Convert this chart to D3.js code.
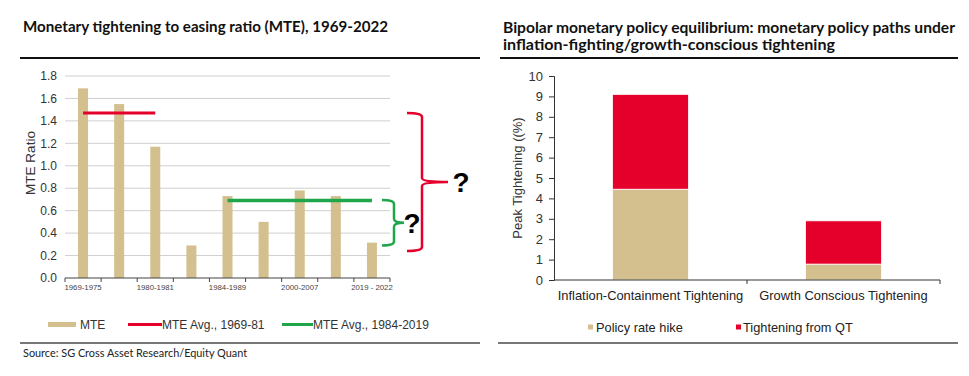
<!DOCTYPE html>
<html>
<head>
<meta charset="utf-8">
<script src="https://cdn.jsdelivr.net/npm/d3@7/dist/d3.min.js"></script>
<style>
  html, body { margin: 0; padding: 0; background: #fff; }
  svg { display: block; }
</style>
</head>
<body>
<svg id="chart" width="969" height="376"></svg>
<script>
// ---------- DATA ----------
// Left chart: MTE ratio by tightening cycle (only every other label is printed)
const mteLabels = ["1969-1975", "", "1980-1981", "", "1984-1989", "", "2000-2007", "", "2019 - 2022"];
const mteValues = [1.69, 1.55, 1.17, 0.29, 0.73, 0.50, 0.78, 0.73, 0.315];
const mteTicks = [0.0, 0.2, 0.4, 0.6, 0.8, 1.0, 1.2, 1.4, 1.6, 1.8];
const avgRed = [1.47, 1.47, 1.47];            // MTE Avg., 1969-81 over cycles 1..3
const avgRedIdx = [0, 1, 2];
const avgGreen = [0.69, 0.69, 0.69, 0.69, 0.69]; // MTE Avg., 1984-2019 over cycles 5..9
const avgGreenIdx = [4, 5, 6, 7, 8];
const braceRed = [1.47, 0.24];   // top / bottom of red brace (MTE units)
const braceGreen = [0.695, 0.29];
const leftLegend = ["MTE", "MTE Avg., 1969-81", "MTE Avg., 1984-2019"];

// Right chart: peak tightening
const policyCats = ["Inflation-Containment Tightening", "Growth Conscious Tightening"];
const policyRate = [4.45, 0.78];
const qtTightening = [4.65, 2.12];
const policyTicks = [0, 1, 2, 3, 4, 5, 6, 7, 8, 9, 10];
const rightLegend = ["Policy rate hike", "Tightening from QT"];

// ---------- STYLE ----------
const TAN = "#d4c08f";
const RED = "#e4002b";
const GREEN = "#1fa64a";
const AX = "Liberation Sans, Arial, sans-serif";
const TITLE = "Lato, 'Open Sans', sans-serif";

const svg = d3.select("#chart");
svg.append("rect").attr("width", 969).attr("height", 376).attr("fill", "#fff");

function title(g, x, y, txt, w) {
  g.append("text").attr("x", x).attr("y", y)
    .attr("font-family", TITLE).attr("font-weight", 700).attr("font-size", 15.2)
    .attr("fill", "#111").attr("textLength", w).attr("lengthAdjust", "spacingAndGlyphs")
    .text(txt);
}

// ---------- LEFT PANEL ----------
const L = svg.append("g");
title(L, 23, 32, "Monetary tightening to easing ratio (MTE), 1969-2022", 365);
L.append("line").attr("x1", 20).attr("x2", 480).attr("y1", 58).attr("y2", 58)
  .attr("stroke", "#111").attr("stroke-width", 2);

const xL = d3.scaleBand().domain(d3.range(mteValues.length)).range([65, 390]).padding(0);
const yL = d3.scaleLinear().domain([0, 1.8]).range([278, 76]);

// gridlines
L.append("g").selectAll("line").data(mteTicks.filter(d => d > 0)).join("line")
  .attr("x1", 65).attr("x2", 390)
  .attr("y1", d => yL(d)).attr("y2", d => yL(d))
  .attr("stroke", "#cfcfcf").attr("stroke-width", 1);

// y tick labels
L.append("g").selectAll("text").data(mteTicks).join("text")
  .attr("x", 57).attr("y", d => yL(d)).attr("dy", "0.35em")
  .attr("text-anchor", "end").attr("font-family", AX).attr("font-size", 12)
  .attr("fill", "#333").text(d => d3.format(".1f")(d));

L.append("text").attr("transform", `translate(35,${(yL(0) + yL(1.8)) / 2 - 14}) rotate(-90)`)
  .attr("text-anchor", "middle").attr("font-family", AX).attr("font-size", 13.5)
  .attr("fill", "#333").text("MTE Ratio");

// bars
const barW = 10;
L.append("g").selectAll("rect").data(mteValues).join("rect")
  .attr("x", (d, i) => xL(i) + xL.bandwidth() / 2 - barW / 2)
  .attr("width", barW)
  .attr("y", d => yL(d)).attr("height", d => yL(0) - yL(d))
  .attr("fill", TAN);

// x axis
L.append("line").attr("x1", 65).attr("x2", 390).attr("y1", yL(0)).attr("y2", yL(0))
  .attr("stroke", "#444").attr("stroke-width", 1.2);
L.append("g").selectAll("line").data(d3.range(mteValues.length + 1)).join("line")
  .attr("x1", i => 65 + i * xL.step()).attr("x2", i => 65 + i * xL.step())
  .attr("y1", yL(0)).attr("y2", yL(0) + 4)
  .attr("stroke", "#444").attr("stroke-width", 1);
L.append("g").selectAll("text").data(mteLabels).join("text")
  .attr("x", (d, i) => xL(i) + xL.bandwidth() / 2).attr("y", 290)
  .attr("text-anchor", "middle").attr("font-family", AX).attr("font-size", 7.8)
  .attr("fill", "#444").text(d => d);

// average lines
const lineL = d3.line().x(d => xL(d[0]) + xL.bandwidth() / 2).y(d => yL(d[1]));
L.append("path").attr("d", lineL(avgRedIdx.map((i, k) => [i, avgRed[k]])))
  .attr("stroke", RED).attr("stroke-width", 3).attr("fill", "none");
L.append("path").attr("d", lineL(avgGreenIdx.map((i, k) => [i, avgGreen[k]])))
  .attr("stroke", GREEN).attr("stroke-width", 3.5).attr("fill", "none");

// braces
function brace(x0, xv, xp, yTop, yBot) {
  const yMid = (yTop + yBot) / 2, r = 4;
  return `M${x0},${yTop} Q${xv},${yTop} ${xv},${yTop + r} L${xv},${yMid - r} Q${xv},${yMid} ${xp},${yMid}` +
         ` Q${xv},${yMid} ${xv},${yMid + r} L${xv},${yBot - r} Q${xv},${yBot} ${x0},${yBot}`;
}
L.append("path").attr("d", brace(407, 422, 448, yL(braceRed[0]), yL(braceRed[1])))
  .attr("stroke", RED).attr("stroke-width", 2.5).attr("fill", "none");
L.append("path").attr("d", brace(382, 394, 404, yL(braceGreen[0]), yL(braceGreen[1])))
  .attr("stroke", GREEN).attr("stroke-width", 2.5).attr("fill", "none");
L.append("text").attr("x", 461).attr("y", (yL(braceRed[0]) + yL(braceRed[1])) / 2 + 10)
  .attr("text-anchor", "middle").attr("font-family", AX).attr("font-weight", 700)
  .attr("font-size", 28).attr("fill", "#000").text("?");
L.append("text").attr("x", 412).attr("y", (yL(braceGreen[0]) + yL(braceGreen[1])) / 2 + 10)
  .attr("text-anchor", "middle").attr("font-family", AX).attr("font-weight", 700)
  .attr("font-size", 28).attr("fill", "#000").text("?");

// legend
const lg = L.append("g").attr("font-family", AX).attr("font-size", 12).attr("fill", "#333");
lg.append("rect").attr("x", 48).attr("y", 322).attr("width", 28).attr("height", 5).attr("fill", TAN);
lg.append("text").attr("x", 80).attr("y", 328.5).text(leftLegend[0]);
lg.append("line").attr("x1", 128).attr("x2", 162).attr("y1", 324.5).attr("y2", 324.5)
  .attr("stroke", RED).attr("stroke-width", 3);
lg.append("text").attr("x", 162).attr("y", 328.5).text(leftLegend[1]);
lg.append("line").attr("x1", 282).attr("x2", 313).attr("y1", 324.5).attr("y2", 324.5)
  .attr("stroke", GREEN).attr("stroke-width", 3);
lg.append("text").attr("x", 313).attr("y", 328.5).text(leftLegend[2]);

L.append("line").attr("x1", 20).attr("x2", 480).attr("y1", 343).attr("y2", 343)
  .attr("stroke", "#777").attr("stroke-width", 2);
L.append("text").attr("x", 23).attr("y", 357)
  .attr("font-family", TITLE).attr("font-size", 10.9).attr("fill", "#222")
  .text("Source: SG Cross Asset Research/Equity Quant");

// ---------- RIGHT PANEL ----------
const R = svg.append("g");
title(R, 503, 33, "Bipolar monetary policy equilibrium: monetary policy paths under", 452);
title(R, 503, 50, "inflation-fighting/growth-conscious tightening", 332);
R.append("line").attr("x1", 500).attr("x2", 958).attr("y1", 58).attr("y2", 58)
  .attr("stroke", "#111").attr("stroke-width", 2);

const xR = d3.scaleBand().domain(policyCats).range([554, 940]).paddingInner(0).paddingOuter(0);
const yR = d3.scaleLinear().domain([0, 10]).range([280, 76]);

const stack = d3.stack().keys(["rate", "qt"])(policyCats.map((c, i) => ({ cat: c, rate: policyRate[i], qt: qtTightening[i] })));
const colors = [TAN, RED];
const bwR = 76;
stack.forEach((layer, li) => {
  R.append("g").selectAll("rect").data(layer).join("rect")
    .attr("x", d => xR(d.data.cat) + xR.bandwidth() / 2 - bwR / 2)
    .attr("width", bwR)
    .attr("y", d => yR(d[1])).attr("height", d => yR(d[0]) - yR(d[1]))
    .attr("fill", colors[li]).attr("stroke", "#fff").attr("stroke-width", 0.8);
});

// y axis
const yAxR = R.append("g").attr("transform", "translate(554,0)")
  .call(d3.axisLeft(yR).tickValues(policyTicks).tickSize(5).tickPadding(6).tickFormat(d3.format("d")));
yAxR.select(".domain").attr("stroke", "#333");
yAxR.selectAll(".tick line").attr("stroke", "#333");
yAxR.selectAll("text").attr("font-family", AX).attr("font-size", 13).attr("fill", "#333");

// x axis
R.append("line").attr("x1", 554).attr("x2", 940).attr("y1", 280).attr("y2", 280)
  .attr("stroke", "#333").attr("stroke-width", 1);
R.append("g").selectAll("line").data([1, 2]).join("line")
  .attr("x1", i => 554 + i * xR.step()).attr("x2", i => 554 + i * xR.step())
  .attr("y1", 280).attr("y2", 284).attr("stroke", "#333");
R.append("g").selectAll("text").data(policyCats).join("text")
  .attr("x", d => xR(d) + xR.bandwidth() / 2).attr("y", 300)
  .attr("text-anchor", "middle").attr("font-family", AX).attr("font-size", 12.9)
  .attr("fill", "#222").text(d => d);

R.append("text").attr("transform", `translate(522,${yR(5)}) rotate(-90)`)
  .attr("text-anchor", "middle").attr("font-family", AX).attr("font-size", 13)
  .attr("fill", "#333").text("Peak Tightening ((%)");

// legend
const rg = R.append("g").attr("font-family", AX).attr("font-size", 12.8).attr("fill", "#222");
rg.append("rect").attr("x", 588).attr("y", 324.5).attr("width", 5).attr("height", 5).attr("fill", TAN);
rg.append("text").attr("x", 596).attr("y", 331.5).text(rightLegend[0]);
rg.append("rect").attr("x", 736).attr("y", 324.5).attr("width", 5).attr("height", 5).attr("fill", RED);
rg.append("text").attr("x", 743).attr("y", 331.5).text(rightLegend[1]);

R.append("line").attr("x1", 498).attr("x2", 958).attr("y1", 343).attr("y2", 343)
  .attr("stroke", "#777").attr("stroke-width", 2);
</script>
</body>
</html>
